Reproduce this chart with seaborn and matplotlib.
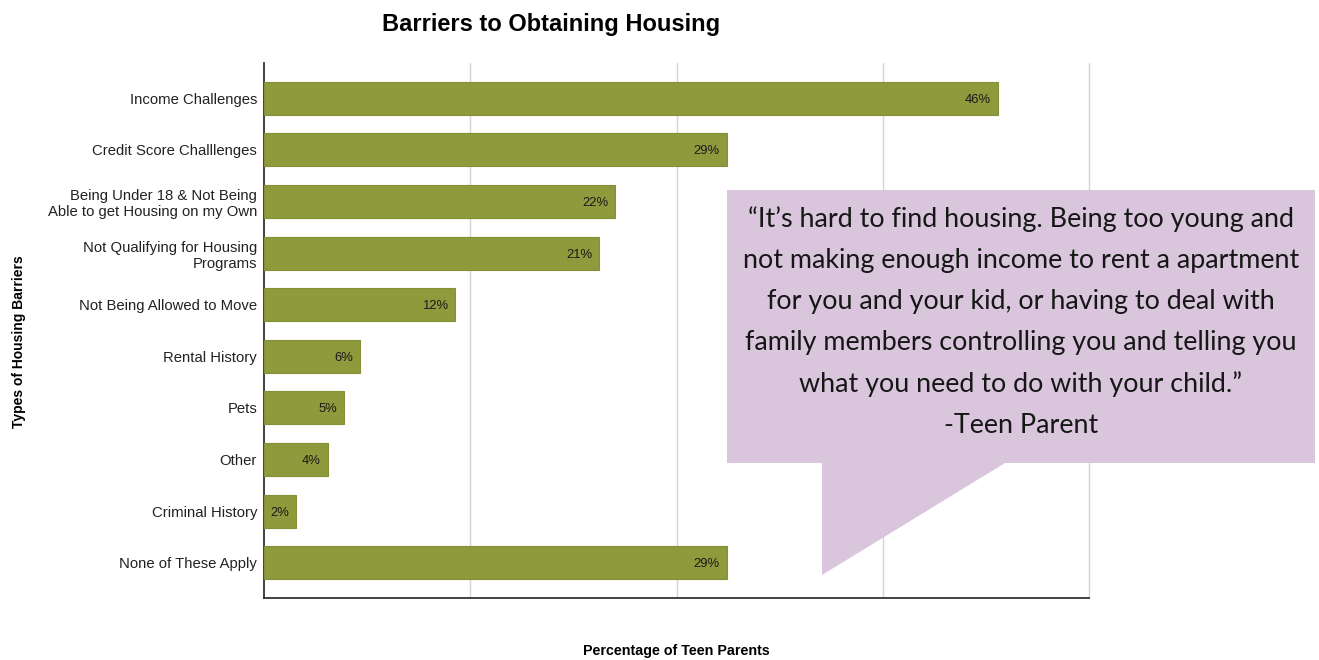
import matplotlib
matplotlib.use("Agg")
import matplotlib.pyplot as plt
import matplotlib.patches as mpatches
import numpy as np
import pandas as pd
import seaborn as sns

categories = [
    "Income Challenges",
    "Credit Score Challlenges",
    "Being Under 18 & Not Being\nAble to get Housing on my Own",
    "Not Qualifying for Housing\nPrograms",
    "Not Being Allowed to Move",
    "Rental History",
    "Pets",
    "Other",
    "Criminal History",
    "None of These Apply",
]
percentages = [46, 29, 22, 21, 12, 6, 5, 4, 2, 29]

title = "Barriers to Obtaining Housing"
x_label = "Percentage of Teen Parents"
y_label = "Types of Housing Barriers"
quote = ("\u201cIt\u2019s hard to find housing. Being too young and\n"
         "not making enough income to rent a apartment\n"
         "for you and your kid, or having to deal with\n"
         "family members controlling you and telling you\n"
         "what you need to do with your child.\u201d\n"
         "-Teen Parent")

BAR_COLOR = "#8f9a3c"
QUOTE_BG = "#d9c6dd"
X_MAX = 51.7

sns.set_theme(style="white")
plt.rcParams["font.family"] = ["Liberation Sans", "DejaVu Sans"]

W, H = 1319, 660
fig = plt.figure(figsize=(W / 100, H / 100), dpi=100)
ax = fig.add_axes([264 / W, 1 - 598 / H, (1089 - 264) / W, (598 - 63) / H])

df = pd.DataFrame({"category": categories, "pct": percentages})
sns.barplot(data=df, y="category", x="pct", orient="h", color=BAR_COLOR,
            saturation=1, width=0.64, edgecolor="#858f36", linewidth=0.8,
            ax=ax, zorder=3)

# value labels just inside the end of each bar
for i, v in enumerate(percentages):
    ax.annotate(f"{v}%", xy=(v, i), xytext=(-5, 0), textcoords="offset points",
                ha="right", va="center_baseline", fontsize=9.4,
                color="#1a1a1a", zorder=4)

ax.set_xlim(0, X_MAX)
ax.set_ylim(len(categories) - 1 + 0.68, -0.68)
ax.set_xticks(np.linspace(0, X_MAX, 5)[1:])
ax.set_xticklabels([])
ax.tick_params(axis="x", length=0)
ax.tick_params(axis="y", length=0, pad=5, labelsize=10.7, labelcolor="#222222")
ax.grid(axis="x", color="#d4d4d4", linewidth=1.0, zorder=0)
ax.grid(axis="y", visible=False)
for gl in ax.get_xgridlines():
    gl.set_clip_on(False)
ax.set_axisbelow(True)

for side in ["top", "right"]:
    ax.spines[side].set_visible(False)
for side in ["left", "bottom"]:
    ax.spines[side].set_color("#333333")
    ax.spines[side].set_linewidth(1.3)

ax.set_xlabel("")
ax.set_ylabel("")

fig.text(551 / W, 1 - 25 / H, title, ha="center", va="center",
         fontsize=17, fontweight="bold", color="black")
fig.text(676 / W, 1 - 651 / H, x_label, ha="center", va="center",
         fontsize=10.3, fontweight="bold", color="black")
fig.text(19 / W, 1 - 342 / H, y_label, ha="center", va="center",
         rotation=90, fontsize=10, fontweight="bold", color="black")

# speech-bubble callout with the quote
bubble_px = [(727, 190), (1315, 190), (1315, 463), (1005, 463),
             (822, 575), (822, 463), (727, 463)]
bubble = mpatches.Polygon([(x / W, 1 - y / H) for x, y in bubble_px],
                          closed=True, facecolor=QUOTE_BG, edgecolor="none",
                          transform=fig.transFigure, zorder=5)
fig.add_artist(bubble)
fig.text(1021 / W, 1 - 322 / H, quote, ha="center", va="center",
         fontsize=19.4, family=["Lato", "DejaVu Sans"], fontweight="normal",
         color="#161616", linespacing=1.8, zorder=6)

fig.savefig("out.png", dpi=100)
